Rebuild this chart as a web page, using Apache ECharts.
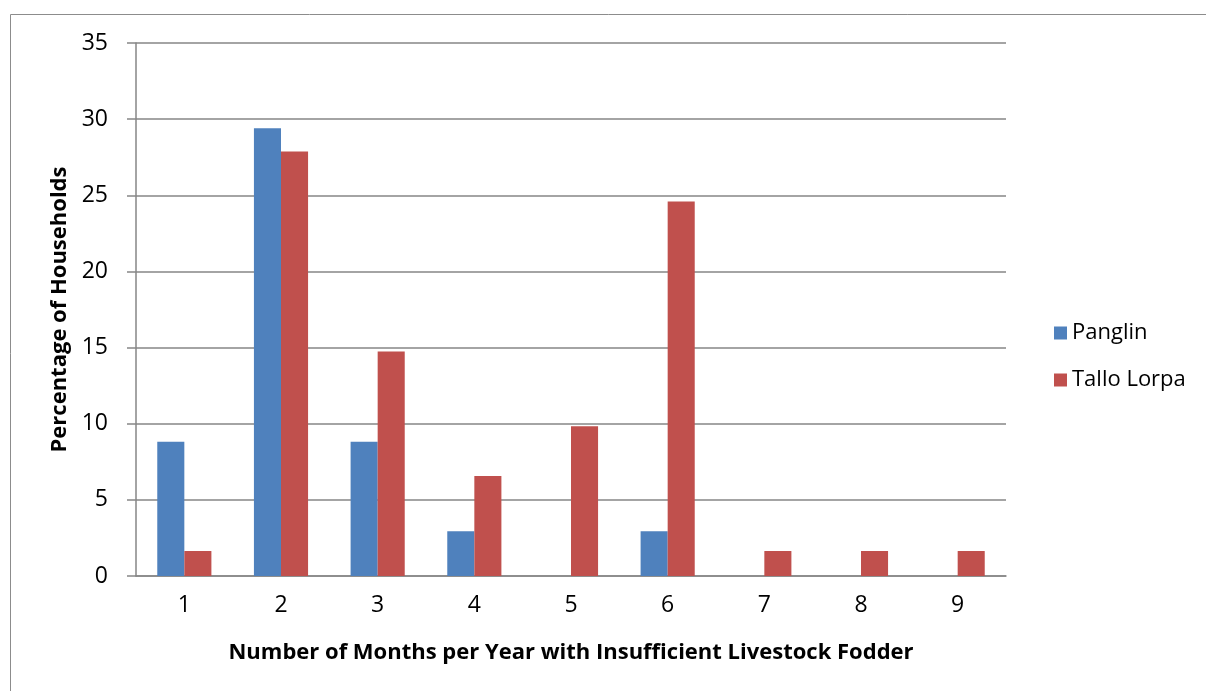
<!DOCTYPE html>
<html>
<head>
<meta charset="utf-8">
<script src="https://cdn.jsdelivr.net/npm/echarts@6/dist/echarts.min.js"></script>
<style>
  html, body { margin: 0; padding: 0; background: #fff; }
  #chart { width: 1206px; height: 691px; }
</style>
</head>
<body>
<div id="chart"></div>
<script>
// Months per year with insufficient livestock fodder
const categories = ['1', '2', '3', '4', '5', '6', '7', '8', '9'];
// Percentage of households in each village
const panglin = [8.82, 29.41, 8.82, 2.94, 0, 2.94, 0, 0, 0];
const talloLorpa = [1.64, 27.87, 14.75, 6.56, 9.84, 24.59, 1.64, 1.64, 1.64];
const yTicks = [0, 5, 10, 15, 20, 25, 30, 35];

const font = '"Open Sans", "Noto Sans", sans-serif';
const gridColor = '#868686';

const chart = echarts.init(document.getElementById('chart'));
chart.setOption({
  animation: false,
  textStyle: { fontFamily: font },
  graphic: [{
    type: 'rect',
    shape: { x: 10.5, y: 14.5, width: 1220, height: 700 },
    style: { fill: 'none', stroke: '#8c8c8c', lineWidth: 1 }
  }],
  grid: { left: 136, top: 43, right: 200, bottom: 115 },
  legend: {
    orient: 'vertical',
    left: 1049,
    top: 317,
    itemWidth: 13,
    itemHeight: 13,
    itemGap: 25,
    icon: 'rect',
    textStyle: { fontSize: 22, color: '#000', fontFamily: font },
    data: ['Panglin', 'Tallo Lorpa']
  },
  xAxis: {
    type: 'category',
    data: categories,
    name: 'Number of Months per Year with Insufficient Livestock Fodder',
    nameLocation: 'middle',
    nameGap: 66,
    nameTextStyle: { fontSize: 22, fontWeight: 'bold', color: '#000', fontFamily: font },
    axisLine: { lineStyle: { color: gridColor, width: 1.5 } },
    axisTick: { show: false },
    axisLabel: { fontSize: 23, color: '#000', margin: 18 }
  },
  yAxis: {
    type: 'value',
    min: yTicks[0],
    max: yTicks[yTicks.length - 1],
    interval: 5,
    name: 'Percentage of Households',
    nameLocation: 'middle',
    nameGap: 62,
    nameTextStyle: { fontSize: 22, fontWeight: 'bold', color: '#000', fontFamily: font },
    axisLine: { show: true, lineStyle: { color: gridColor, width: 1.5 } },
    axisTick: { show: true, length: 9, lineStyle: { color: gridColor, width: 1.5 } },
    axisLabel: { fontSize: 23, color: '#000', margin: 28 },
    splitLine: { lineStyle: { color: gridColor, width: 1.5 } }
  },
  series: [
    {
      name: 'Panglin',
      type: 'bar',
      data: panglin,
      barGap: '0%',
      barCategoryGap: '44%',
      itemStyle: { color: '#4f81bd' }
    },
    {
      name: 'Tallo Lorpa',
      type: 'bar',
      data: talloLorpa,
      barGap: '0%',
      barCategoryGap: '44%',
      itemStyle: { color: '#c0504d' }
    }
  ]
});
</script>
</body>
</html>
